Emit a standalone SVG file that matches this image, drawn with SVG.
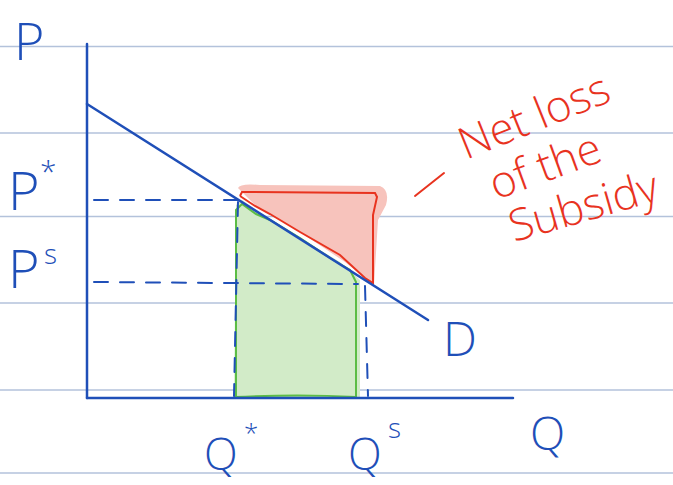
<svg xmlns="http://www.w3.org/2000/svg" width="673" height="485" viewBox="0 0 673 485">
<style>
.rule{stroke:#b3c2db;stroke-width:1.5}
.ax{stroke:#1f4fb8;stroke-width:2.5;fill:none;stroke-linecap:round}
.dash{stroke:#1f4fb8;stroke-width:2;fill:none;stroke-dasharray:14 12;stroke-linecap:round}
.lb{font-family:"Open Sans","DejaVu Sans",sans-serif;font-weight:300;fill:#1f4fb8}
.rd{font-family:"Open Sans","DejaVu Sans",sans-serif;font-weight:300;fill:#e8331f}
</style>
<rect width="673" height="485" fill="#ffffff"/>
<g id="rules">
<line class="rule" x1="0" y1="46.5" x2="673" y2="46.5"/>
<line class="rule" x1="0" y1="133" x2="673" y2="133"/>
<line class="rule" x1="0" y1="216.5" x2="673" y2="216.5"/>
<line class="rule" x1="0" y1="303" x2="673" y2="303"/>
<line class="rule" x1="0" y1="390" x2="673" y2="390"/>
<line class="rule" x1="0" y1="473" x2="673" y2="473"/>
</g>
<g id="green-area">
<path d="M236,205 L242,200 L256,210 L300,238 L340,262 L360,280 L360,398 L234,398 Z" fill="#d2ebc8"/>
<path d="M236,398 L236,210 L242,204 L256,214 L270,220 L300,238 L330,258 L350,270 L356,282 L356,398" fill="none" stroke="#5cbd45" stroke-width="2"/>
<path d="M234,397 Q300,394 356,397" fill="none" stroke="#5cbd45" stroke-width="2"/>
</g>
<g id="red-area">
<path d="M238,188 Q240,183 260,185 L380,186 Q390,190 386,205 L378,220 L374,285 L345,262 L300,232 L255,205 Z" fill="#f7c3bc"/>
<path d="M240,196 L242,192 L375,193 L377,197 L373,215 L373,283 L365,278 L340,255 L300,232 L270,214 L255,206 L240,196" fill="none" stroke="#e8331f" stroke-width="2"/>
</g>
<g id="connectors">
<line class="ax" x1="87" y1="44" x2="87" y2="398"/>
<line class="ax" x1="87" y1="398" x2="513" y2="398"/>
<line class="ax" x1="87" y1="104" x2="428" y2="320"/>
<line class="dash" x1="94" y1="200" x2="238" y2="200"/>
<line class="dash" x1="94" y1="282" x2="358" y2="284"/>
<line class="dash" x1="238" y1="202" x2="234" y2="396"/>
<line class="dash" x1="365" y1="286" x2="368" y2="396"/>
</g>
<g id="labels">
<text class="lb" x="14" y="60" font-size="52">P</text>
<text class="lb" x="8" y="210" font-size="54">P</text>
<text class="lb" x="40" y="182" font-size="30">*</text>
<text class="lb" x="8" y="288" font-size="54">P</text>
<text class="lb" x="44" y="264" font-size="28">s</text>
<text class="lb" x="204" y="470" font-size="44">Q</text>
<text class="lb" x="244" y="442" font-size="26">*</text>
<text class="lb" x="348" y="470" font-size="44">Q</text>
<text class="lb" x="388" y="438" font-size="28">s</text>
<text class="lb" x="530" y="450" font-size="46">Q</text>
<text class="lb" x="443" y="356" font-size="48">D</text>
</g>
<g id="annotation">
<line x1="415" y1="196" x2="444" y2="173" stroke="#e8331f" stroke-width="2" stroke-linecap="round"/>
<text class="rd" font-size="44" transform="translate(466,160) rotate(-22)">Net loss</text>
<text class="rd" font-size="44" transform="translate(496,200) rotate(-20)">of the</text>
<text class="rd" font-size="44" transform="translate(514,242) rotate(-16)">Subsidy</text>
</g>
</svg>
